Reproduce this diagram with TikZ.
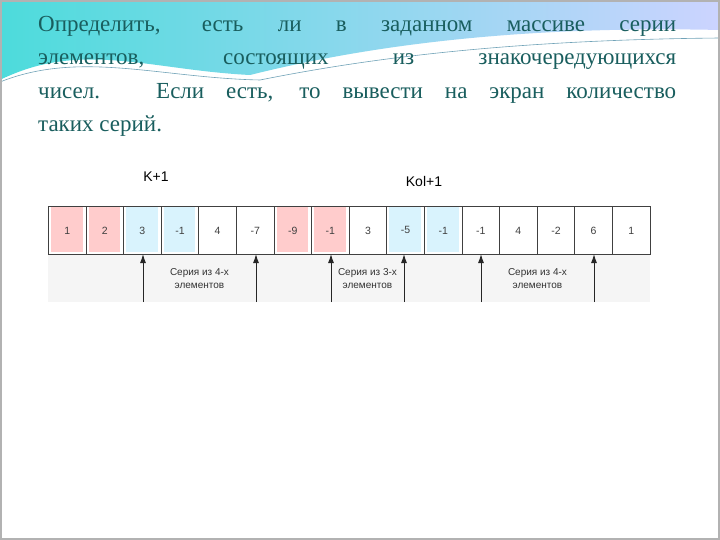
\documentclass[tikz,border=0pt]{standalone}
\usepackage{fontspec}
\usetikzlibrary{arrows.meta}
\setmainfont{Liberation Serif}
\newfontfamily\arial{Liberation Sans}
\begin{document}
\begin{tikzpicture}[x=1pt,y=-1pt,
  cell/.style={draw=black!75,line width=0.8pt,minimum width=37.6pt,minimum height=48pt,anchor=north west,inner sep=0pt,font=\arial\fontsize{10.5}{11}\selectfont,text=black!75},
  lab/.style={font=\arial\fontsize{10}{13}\selectfont,align=center,text=black!80},
  arr/.style={-{Latex[length=9pt,width=6pt]},line width=1pt,black!85},
  title/.style={font=\fontsize{23}{33.3}\selectfont,text=teal!60!black!90,align=left,anchor=north west,inner sep=0pt}]
\useasboundingbox (0,0) rectangle (720,540);
\fill[white] (0,0) rectangle (720,540);
% wave
\shade[left color=cyan!60!teal!70, right color=cyan!15!blue!20]
  (0,0) -- (720,0) -- (720,30) .. controls (500,25) and (350,50) .. (250,75) .. controls (150,70) and (80,40) .. (0,80) -- cycle;
\fill[white] (0,80) .. controls (80,45) and (150,75) .. (250,80) .. controls (350,55) and (500,30) .. (720,34) -- (720,540) -- (0,540) -- cycle;
\draw[cyan!40!gray,line width=0.6pt] (0,82) .. controls (80,50) and (160,78) .. (260,80) .. controls (360,60) and (500,40) .. (720,38);
\draw[gray!60,line width=2pt] (1,1) rectangle (719,539);
\node[title] (t) at (38,16) {\makebox[638pt][s]{Определить, есть ли в заданном массиве серии}\\
\makebox[638pt][s]{элементов, состоящих из знакочередующихся}\\
\makebox[638pt][s]{чисел. Если есть, то вывести на экран количество}\\
таких серий.};
% gray backing
\fill[gray!8] (48,255) rectangle (650,302);
% fills
\foreach \i/\c in {0/red!20,1/red!20,2/cyan!15,3/cyan!15,6/red!20,7/red!20,9/cyan!15,10/cyan!15}
  \fill[\c] (48+\i*37.6+3,207) rectangle (48+\i*37.6+34.6,252);
\foreach \v [count=\i from 0] in {1,2,3,-1,4,-7,-9,-1,3,-5,-1,-1,4,-2,6,1}
  \node[cell] (c\i) at (48+\i*37.6,206) {\v};
\node[font=\arial\fontsize{14}{15}\selectfont] (k) at (156,177) {K+1};
\node[font=\arial\fontsize{14}{15}\selectfont] (kol) at (424,181) {Kol+1};
\coordinate (a1) at (143,302); \coordinate (a1t) at (143,254);
\coordinate (b1) at (256,302); \coordinate (b1t) at (256,254);
\coordinate (a2) at (331,302); \coordinate (a2t) at (331,254);
\coordinate (b2) at (404,302); \coordinate (b2t) at (404,254);
\coordinate (a3) at (481,302); \coordinate (a3t) at (481,254);
\coordinate (b3) at (594,302); \coordinate (b3t) at (594,254);
\foreach \p in {1,2,3}{\draw[arr] (a\p) -- (a\p t); \draw[arr] (b\p) -- (b\p t);}
\node[lab] (s1) at (199.5,279) {Серия из 4-х\\элементов};
\node[lab] (s2) at (367.5,279) {Серия из 3-х\\элементов};
\node[lab] (s3) at (537.5,279) {Серия из 4-х\\элементов};
\end{tikzpicture}
\end{document}
